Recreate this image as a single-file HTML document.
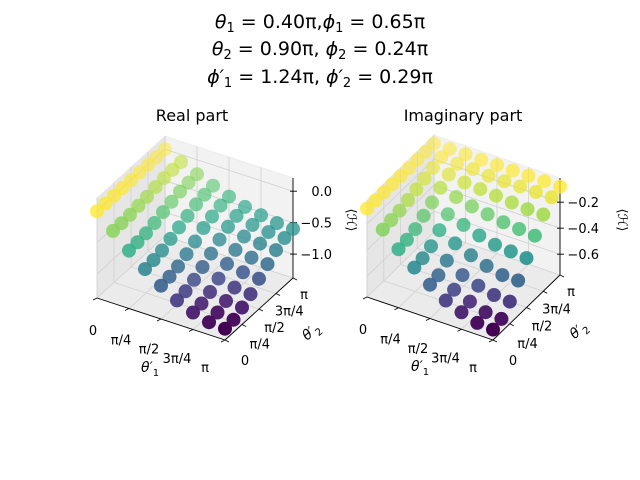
<!DOCTYPE html>
<html><head><meta charset="utf-8"><style>
body{margin:0;background:#fff;}
svg{display:block;font-family:"DejaVu Sans","Liberation Sans",sans-serif;}
</style></head><body>
<svg id="fig" width="640" height="480" viewBox="0 0 640 480">
<rect width="640" height="480" fill="#fff"/>
<g font-family="DejaVu Sans, Liberation Serif, serif" font-size="19" text-anchor="middle" fill="#000">
<text x="320" y="28" font-style="italic">θ<tspan font-size="13" dy="4" font-style="normal">1</tspan><tspan dy="-4" font-style="normal"> = 0.40π,</tspan>ϕ<tspan font-size="13" dy="4" font-style="normal">1</tspan><tspan dy="-4" font-style="normal"> = 0.65π</tspan></text>
<text x="320" y="55" font-style="italic">θ<tspan font-size="13" dy="4" font-style="normal">2</tspan><tspan dy="-4" font-style="normal"> = 0.90π, </tspan>ϕ<tspan font-size="13" dy="4" font-style="normal">2</tspan><tspan dy="-4" font-style="normal"> = 0.24π</tspan></text>
<text x="320" y="83" font-style="italic">ϕ′<tspan font-size="13" dy="4" font-style="normal">1</tspan><tspan dy="-4" font-style="normal"> = 1.24π, </tspan>ϕ′<tspan font-size="13" dy="4" font-style="normal">2</tspan><tspan dy="-4" font-style="normal"> = 0.29π</tspan></text>
</g>
<text x="192" y="121" font-size="16" text-anchor="middle">Real part</text>
<text x="463" y="121" font-size="16" text-anchor="middle">Imaginary part</text>
<g id="p0"></g>
<g id="p1"></g>
</svg>
<script>
const theta1Ticks = ["0","π/4","π/2","3π/4","π"];
const theta2Ticks = ["0","π/4","π/2","3π/4","π"];
const theta1Values = [0,0.125,0.25,0.375,0.5,0.625,0.75,0.875,1]; // fractions of π
const theta2Values = [0,0.125,0.25,0.375,0.5,0.625,0.75,0.875,1];
const realZTicks = [0.0,-0.5,-1.0];
const imagZTicks = [-0.2,-0.4,-0.6];
// rows: theta2 index, cols: theta1 index
const realValues = [
[0,-0.23,-0.46,-0.67,-0.85,-1.00,-1.11,-1.18,-1.20],
[0,-0.23,-0.45,-0.65,-0.83,-0.98,-1.09,-1.15,-1.18],
[0,-0.22,-0.43,-0.62,-0.79,-0.92,-1.03,-1.09,-1.11],
[0,-0.20,-0.39,-0.56,-0.72,-0.84,-0.94,-1.00,-1.02],
[0,-0.18,-0.34,-0.50,-0.64,-0.75,-0.83,-0.88,-0.90],
[0,-0.15,-0.30,-0.44,-0.55,-0.65,-0.73,-0.77,-0.79],
[0,-0.13,-0.26,-0.38,-0.49,-0.57,-0.64,-0.67,-0.69],
[0,-0.12,-0.24,-0.35,-0.44,-0.52,-0.58,-0.61,-0.62],
[0,-0.12,-0.23,-0.33,-0.42,-0.50,-0.55,-0.59,-0.60]];
const imagValues = [
[-0.08,-0.20,-0.31,-0.41,-0.50,-0.58,-0.63,-0.67,-0.68],
[-0.08,-0.19,-0.30,-0.40,-0.49,-0.56,-0.61,-0.65,-0.66],
[-0.08,-0.18,-0.28,-0.37,-0.44,-0.51,-0.55,-0.58,-0.59],
[-0.08,-0.16,-0.24,-0.31,-0.37,-0.42,-0.46,-0.49,-0.49],
[-0.08,-0.14,-0.20,-0.25,-0.29,-0.33,-0.36,-0.37,-0.38],
[-0.08,-0.12,-0.15,-0.18,-0.21,-0.23,-0.25,-0.26,-0.27],
[-0.08,-0.10,-0.11,-0.13,-0.14,-0.15,-0.16,-0.17,-0.17],
[-0.08,-0.08,-0.09,-0.09,-0.10,-0.10,-0.10,-0.10,-0.10],
[-0.08,-0.08,-0.08,-0.08,-0.08,-0.08,-0.08,-0.08,-0.08]];

const NS="http://www.w3.org/2000/svg";
const VIR=["#440154","#482475","#414487","#355f8d","#2a788e","#21918c","#22a884","#44bf70","#7ad151","#bddf26","#fde725"];
function hex(h){return [parseInt(h.slice(1,3),16),parseInt(h.slice(3,5),16),parseInt(h.slice(5,7),16)];}
function viridis(t){t=Math.max(0,Math.min(1,t));const f=t*10,i=Math.min(9,Math.floor(f)),u=f-i;const a=hex(VIR[i]),b=hex(VIR[i+1]);return "rgb("+a.map((v,k)=>Math.round(v+(b[k]-v)*u)).join(",")+")";}
function mk(tag,attrs,parent){const e=document.createElementNS(NS,tag);for(const k in attrs)e.setAttribute(k,attrs[k]);parent.appendChild(e);return e;}

function panel(g,cfg,values,zTicks,zTickLabels){
  const P=(x,y,z)=>{const zn=(z-cfg.zmin)/(cfg.zmax-cfg.zmin);return [cfg.O[0]+x*cfg.ex[0]+y*cfg.ey[0], cfg.O[1]+x*cfg.ex[1]+y*cfg.ey[1]-zn*cfg.ez];};
  const poly=(pts,fill,name)=>{const e=mk("polygon",{points:pts.map(p=>p.join(",")).join(" "),fill:fill,stroke:"#e6e6e6","stroke-width":"0.6"},g);
    
    };
  const zl=cfg.zmin,zh=cfg.zmax;
  poly([P(0,0,zl),P(1,0,zl),P(1,1,zl),P(0,1,zl)],"#ebebeb","floor-pane");
  poly([P(0,1,zl),P(1,1,zl),P(1,1,zh),P(0,1,zh)],"#f2f2f2","back-pane");
  poly([P(0,0,zl),P(0,1,zl),P(0,1,zh),P(0,0,zh)],"#e6e6e6","side-pane");
  const line=(a,b,st,w,name)=>{const e=mk("line",{x1:a[0],y1:a[1],x2:b[0],y2:b[1],stroke:st,"stroke-width":w},g);
    
    return e;};
  const tf=[0,0.25,0.5,0.75,1];
  tf.forEach(t=>{
    line(P(t,0,zl),P(t,1,zl),"#d0d0d0",0.8,"grid-line");
    line(P(t,1,zl),P(t,1,zh),"#d0d0d0",0.8,"grid-line");
    line(P(0,t,zl),P(1,t,zl),"#d0d0d0",0.8,"grid-line");
    line(P(0,t,zl),P(0,t,zh),"#d0d0d0",0.8,"grid-line");
  });
  zTicks.forEach(z=>{
    line(P(0,0,z),P(0,1,z),"#d0d0d0",0.8,"grid-line");
    line(P(0,1,z),P(1,1,z),"#d0d0d0",0.8,"grid-line");
  });
  line(P(0,0,zl),P(1,0,zl),"#000",0.9,"theta1-axis-line");
  line(P(1,0,zl),P(1,1,zl),"#000",0.9,"theta2-axis-line");
  line(P(1,1,zl),P(1,1,zh),"#000",0.9,"z-axis-line");
  tf.forEach((t,i)=>{
    const a=P(t,0,zl);line(a,[a[0]-4,a[1]+2],"#000",0.9,"theta1-tick");
    const lt=mk("text",{x:a[0]-4-16*t,y:a[1]+37-5*t,"font-size":"13","text-anchor":"middle"},g);lt.textContent=theta1Ticks[i];
    
    
    const b=P(1,t,zl);line(b,[b[0]+4,b[1]+2],"#000",0.9,"theta2-tick");
    const l2=mk("text",{x:b[0]+20-9*t,y:b[1]+25-4*t,"font-size":"13","text-anchor":"middle"},g);l2.textContent=theta2Ticks[i];
    
    
  });
  zTicks.forEach((z,i)=>{
    const c=P(1,1,z);line([c[0]-3,c[1]],[c[0]+4,c[1]],"#000",0.9,"z-tick");
    const t=mk("text",{x:c[0]+39,y:c[1]+5,"font-size":"13","text-anchor":"end"},g);t.textContent=zTickLabels[i];
    
    
  });
  const a1=mk("text",{x:cfg.O[0]+44,y:cfg.O[1]+74,"font-size":"14","font-style":"italic"},g);
  a1.innerHTML='θ′<tspan font-size="10" dy="4" font-style="normal">1</tspan>';
  
  
  const b2=P(1,0.5,zl);
  const a2=mk("text",{x:0,y:0,"font-size":"14","font-style":"italic",transform:`translate(${b2[0]+48},${b2[1]+32}) rotate(-40)`},g);
  a2.innerHTML='θ′<tspan font-size="10" dy="4" font-style="normal">2</tspan>';
  
  
  const a3=mk("text",{x:0,y:0,"font-size":"13","text-anchor":"middle",transform:`translate(${cfg.hx},220) rotate(90)`},g);
  a3.textContent='⟨ℋ⟩';
  
  
  let vmin=Infinity,vmax=-Infinity;values.forEach(r=>r.forEach(v=>{vmin=Math.min(vmin,v);vmax=Math.max(vmax,v);}));
  const pts=[];
  theta2Values.forEach((t2,j)=>theta1Values.forEach((t1,i)=>pts.push({x:t1,y:t2,z:values[j][i]})));
  pts.sort((p,q)=>(p.x-p.y)-(q.x-q.y));
  pts.forEach(p=>{
    const s=P(p.x,p.y,p.z);const d=(p.x-p.y+1)/2;
    const c=mk("circle",{cx:s[0].toFixed(1),cy:s[1].toFixed(1),r:7,fill:viridis((p.z-vmin)/(vmax-vmin)),"fill-opacity":(0.5+0.5*d).toFixed(2)},g);
    
    
  });
}
panel(document.getElementById("p0"),{O:[97,298],ex:[128,42],ey:[68,-62],ez:100,zmin:-1.38,zmax:0.21,hx:347},realValues,realZTicks,["0.0","−0.5","−1.0"]);
panel(document.getElementById("p1"),{O:[367,297],ex:[126,43],ey:[67,-65],ez:97,zmin:-0.76,zmax:-0.014,hx:618},imagValues,imagZTicks,["−0.2","−0.4","−0.6"]);
</script>
</body></html>
